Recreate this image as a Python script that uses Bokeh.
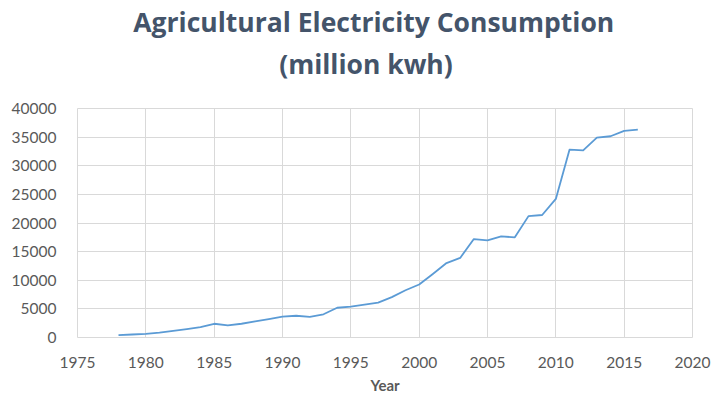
from bokeh.plotting import figure
from bokeh.models import FixedTicker, Range1d
from bokeh.layouts import column
from bokeh.core.properties import value
from bokeh.embed import file_html
from bokeh.resources import INLINE

years = list(range(1978, 2017))
consumption = [400, 520, 650, 850, 1150, 1450, 1800, 2400, 2100, 2400,
               2800, 3200, 3650, 3800, 3600, 4050, 5200, 5400, 5750, 6100,
               7050, 8250, 9250, 11100, 13000, 13900, 17200, 16950, 17650, 17500,
               21200, 21400, 24200, 32800, 32700, 34900, 35150, 36100, 36300]
x_ticks = [1975, 1980, 1985, 1990, 1995, 2000, 2005, 2010, 2015, 2020]
y_ticks = [0, 5000, 10000, 15000, 20000, 25000, 30000, 35000, 40000]
title_lines = ["Agricultural Electricity Consumption", "(million kwh)"]
x_label = "Year"

FONT = "Lato"
TFONT = "Open Sans"
GRID = "#D9D9D9"
TXT = "#595959"
TITLE_C = "#44546A"

W = 711
TH = 95
# --- title strip (pixel coordinates, y measured from the top) ---
t = figure(width=W, height=TH, output_backend="svg", toolbar_location=None,
           x_range=Range1d(0, W), y_range=Range1d(TH, 0),
           x_axis_type=None, y_axis_type=None, title_location=None,
           min_border=0, min_border_left=0, min_border_right=0,
           min_border_top=0, min_border_bottom=0)
t.grid.visible = False
t.outline_line_color = None
t.background_fill_color = "white"
t.border_fill_color = "white"
t.text(x=[342.5, 333.5], y=[21, 63], text=title_lines, text_font=value(TFONT),
       text_font_style="bold", text_font_size="26.5px", text_color=TITLE_C,
       text_align="center", text_baseline="alphabetic")

# --- main chart ---
p = figure(width=W, height=396 - TH, output_backend="svg", toolbar_location=None,
           x_range=Range1d(1975, 2020), y_range=Range1d(0, 40000),
           min_border_left=77, min_border_right=19, min_border_top=13, min_border_bottom=58)

p.line(years, consumption, line_color="#5B9BD5", line_width=1.8, line_join="round")

p.xaxis.ticker = FixedTicker(ticks=x_ticks)
p.yaxis.ticker = FixedTicker(ticks=y_ticks)
for ax in (p.xaxis, p.yaxis):
    ax.axis_line_color = None
    ax.major_tick_line_color = None
    ax.minor_tick_line_color = None
    ax.major_label_text_font = FONT
    ax.major_label_text_font_size = "15.5px"
    ax.major_label_text_color = TXT
p.xaxis.major_label_standoff = 13
p.yaxis.major_label_standoff = 15
p.xaxis.axis_label = x_label
p.xaxis.axis_label_text_font = FONT
p.xaxis.axis_label_text_font_style = "bold"
p.xaxis.axis_label_text_font_size = "15px"
p.xaxis.axis_label_text_color = TXT
p.xaxis.axis_label_standoff = 5

p.xgrid.grid_line_color = GRID
p.ygrid.grid_line_color = GRID
p.outline_line_color = GRID
p.background_fill_color = "white"
p.border_fill_color = "white"

layout = column(t, p, spacing=0)
open("out.html", "w").write(file_html(layout, INLINE))
